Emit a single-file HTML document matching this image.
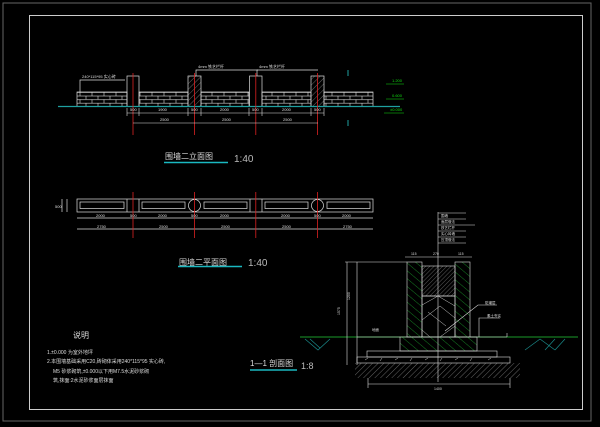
<!DOCTYPE html>
<html><head><meta charset="utf-8"><style>
html,body{margin:0;padding:0;background:#000;}
svg{display:block;}
text{font-family:"Liberation Sans","Noto Sans CJK SC",sans-serif;}
</style></head><body>
<svg width="600" height="427" viewBox="0 0 600 427" xmlns="http://www.w3.org/2000/svg">
<defs>
<pattern id="brick" x="77" y="92" width="12" height="7.2" patternUnits="userSpaceOnUse">
<rect width="12" height="7.2" fill="#000"/>
<line x1="0" y1="0.4" x2="12" y2="0.4" stroke="#ddd" stroke-width="0.6"/>
<line x1="0" y1="4" x2="12" y2="4" stroke="#ddd" stroke-width="0.6"/>
<line x1="3" y1="0.4" x2="3" y2="4" stroke="#ddd" stroke-width="0.6"/>
<line x1="9" y1="4" x2="9" y2="7.2" stroke="#ddd" stroke-width="0.6"/>
</pattern>
<pattern id="hatchG" width="6" height="6" patternUnits="userSpaceOnUse" patternTransform="rotate(-50)">
<line x1="0" y1="0" x2="0" y2="6" stroke="#1a9a2a" stroke-width="0.8"/>
</pattern>
<pattern id="hatchW" width="3" height="3" patternUnits="userSpaceOnUse" patternTransform="rotate(45)">
<line x1="0" y1="0" x2="0" y2="3" stroke="#bbb" stroke-width="0.5"/>
</pattern>
<pattern id="hatchW2" width="4" height="4" patternUnits="userSpaceOnUse" patternTransform="rotate(45)">
<line x1="0" y1="0" x2="0" y2="4" stroke="#aaa" stroke-width="0.6"/>
</pattern>
</defs>
<rect width="600" height="427" fill="#000"/>
<rect x="3" y="3" width="588" height="418" fill="none" stroke="#666" stroke-width="1"/>
<rect x="29.5" y="15.5" width="553" height="394" fill="none" stroke="#ccc" stroke-width="1"/>

<!-- Elevation -->
<g stroke="#ddd" stroke-width="0.7" fill="none">
<rect x="77" y="92" width="50" height="14.5" fill="url(#brick)"/>
<rect x="139" y="92" width="49" height="14.5" fill="url(#brick)"/>
<rect x="201" y="92" width="48" height="14.5" fill="url(#brick)"/>
<rect x="262" y="92" width="49" height="14.5" fill="url(#brick)"/>
<rect x="324" y="92" width="49" height="14.5" fill="url(#brick)"/>
<rect x="127" y="76" width="12" height="30.5"/>
<rect x="188" y="76" width="13" height="30.5" fill="url(#hatchW2)"/>
<rect x="249.5" y="76" width="12.5" height="30.5"/>
<rect x="311" y="76" width="13" height="30.5" fill="url(#hatchW2)"/>
<polyline points="80,92 80,80 125,80"/>
<polyline points="196,76 196,70 258,70"/>
<polyline points="257,76 257,70 318,70"/>
</g>
<line x1="58" y1="106.5" x2="400" y2="106.5" stroke="#1ea0a0" stroke-width="1.2"/>
<g stroke="#d22" stroke-width="0.8">
<line x1="133" y1="73" x2="133" y2="135"/><line x1="194.5" y1="73" x2="194.5" y2="135"/>
<line x1="255.8" y1="73" x2="255.8" y2="135"/><line x1="317.5" y1="73" x2="317.5" y2="135"/>
</g>
<g stroke="#ddd" stroke-width="0.6">
<line x1="127" y1="113" x2="324" y2="113"/><line x1="133" y1="123" x2="318" y2="123"/>
<line x1="127" y1="108" x2="127" y2="116"/><line x1="139" y1="108" x2="139" y2="116"/>
<line x1="188" y1="108" x2="188" y2="116"/><line x1="201" y1="108" x2="201" y2="116"/>
<line x1="249" y1="108" x2="249" y2="116"/><line x1="262" y1="108" x2="262" y2="116"/>
<line x1="311" y1="108" x2="311" y2="116"/><line x1="324" y1="108" x2="324" y2="116"/>
</g>
<g fill="#ddd" font-size="4">
<text x="130" y="111">500</text><text x="158" y="111">1900</text><text x="191" y="111">500</text><text x="220" y="111">2000</text><text x="252" y="111">500</text><text x="282" y="111">2000</text><text x="314" y="111">500</text>
<text x="160" y="121">2500</text><text x="222" y="121">2500</text><text x="283" y="121">2500</text>
<text x="82" y="78">240*115*95 实心砖</text><text x="198" y="68">4mm 铁艺栏杆</text><text x="259" y="68">4mm 铁艺栏杆</text>
</g>
<g fill="#1d1" font-size="4"><text x="392" y="82">1.200</text><text x="392" y="97">0.600</text><text x="390" y="111">±0.000</text></g>
<g stroke="#1d1" stroke-width="0.5"><line x1="386" y1="84" x2="404" y2="84"/><line x1="386" y1="99" x2="404" y2="99"/><line x1="384" y1="113" x2="404" y2="113"/></g>
<line x1="348" y1="70" x2="348" y2="76" stroke="#1ea0a0"/><line x1="348" y1="120" x2="348" y2="126" stroke="#1ea0a0"/>
<text x="165" y="159" fill="#ddd" font-size="8">围墙二立面图</text>
<line x1="164" y1="162.5" x2="228" y2="162.5" stroke="#1ab8c0" stroke-width="1.5"/>
<text x="234" y="162" fill="#bbb" font-size="10">1:40</text>

<!-- Plan -->
<g stroke="#ddd" stroke-width="0.7" fill="none">
<rect x="77" y="199" width="296" height="13"/>
<rect x="80" y="202" width="44" height="6.5"/><rect x="142" y="202" width="43" height="6.5"/>
<rect x="204" y="202" width="43" height="6.5"/><rect x="265" y="202" width="43" height="6.5"/>
<rect x="327" y="202" width="43" height="6.5"/>
<line x1="127" y1="199" x2="127" y2="212"/><line x1="139" y1="199" x2="139" y2="212"/>
<line x1="250" y1="199" x2="250" y2="212"/><line x1="262" y1="199" x2="262" y2="212"/>
<circle cx="194.5" cy="205.5" r="6"/><circle cx="317.5" cy="205.5" r="6"/>
<line x1="77" y1="218" x2="373" y2="218"/><line x1="77" y1="229" x2="373" y2="229"/>
<line x1="62" y1="199" x2="62" y2="212"/><line x1="67" y1="199" x2="67" y2="212"/>
</g>
<g stroke="#d22" stroke-width="0.8">
<line x1="133" y1="192" x2="133" y2="238"/><line x1="194.5" y1="192" x2="194.5" y2="238"/>
<line x1="255.8" y1="192" x2="255.8" y2="238"/><line x1="317.5" y1="192" x2="317.5" y2="238"/>
</g>
<g fill="#ddd" font-size="4">
<text x="96" y="217">2000</text><text x="130" y="217">500</text><text x="158" y="217">2000</text><text x="191" y="217">500</text><text x="220" y="217">2000</text><text x="281" y="217">2000</text><text x="314" y="217">500</text><text x="342" y="217">2000</text>
<text x="97" y="228">2750</text><text x="159" y="228">2500</text><text x="221" y="228">2500</text><text x="282" y="228">2500</text><text x="343" y="228">2750</text>
<text x="55" y="208">500</text>
</g>
<text x="179" y="265" fill="#ddd" font-size="8">围墙二平面图</text>
<line x1="178" y1="266.5" x2="242" y2="266.5" stroke="#1ab8c0" stroke-width="1.5"/>
<text x="248" y="266" fill="#bbb" font-size="10">1:40</text>

<!-- Section -->
<line x1="300" y1="337" x2="578" y2="337" stroke="#1a9a2a" stroke-width="1"/>
<g stroke="#1a8a8a" stroke-width="0.7">
<path d="M305,339 L318,350 L330,339 M310,339 L320,348 M540,339 L555,350 M555,339 L545,350 M565,339 L555,350 M525,350 L540,339"/>
</g>
<rect x="400" y="337" width="77" height="14" fill="url(#hatchG)" stroke="#ddd" stroke-width="0.6"/>
<rect x="407" y="262" width="15" height="75" fill="url(#hatchG)" stroke="#ddd" stroke-width="0.6"/>
<rect x="455" y="262" width="15" height="75" fill="url(#hatchG)" stroke="#ddd" stroke-width="0.6"/>
<rect x="422" y="266" width="33" height="30" fill="url(#hatchW)" stroke="#ddd" stroke-width="0.6"/>
<rect x="422" y="296" width="33" height="41" fill="none" stroke="#ddd" stroke-width="0.6"/>
<path d="M422,305 L438,296 L455,306 M422,320 L440,306 L455,318 M430,337 L422,330 M440,337 L455,326 M428,312 L446,326" stroke="#ccc" stroke-width="0.5" fill="none"/>
<rect x="367" y="351" width="130" height="6" fill="none" stroke="#ddd" stroke-width="0.6"/>
<rect x="357" y="357" width="153" height="6" fill="none" stroke="#ddd" stroke-width="0.6"/>
<path d="M365,360 l3,-2 M380,361 l2,-3 M395,360 l3,-2 M410,361 l2,-3 M425,360 l3,-2 M440,361 l2,-3 M455,360 l3,-2 M470,361 l2,-3 M488,360 l3,-2" stroke="#ccc" stroke-width="0.5"/>
<rect x="355" y="363" width="165" height="15" fill="url(#hatchW2)"/>
<g stroke="#ddd" stroke-width="0.6" fill="none">
<line x1="347" y1="262" x2="347" y2="365"/><line x1="357" y1="262" x2="357" y2="365"/>
<line x1="345" y1="262" x2="407" y2="262"/>
<line x1="357" y1="337" x2="400" y2="337"/>
<line x1="368" y1="384" x2="510" y2="384"/><line x1="368" y1="378" x2="368" y2="388"/><line x1="510" y1="378" x2="510" y2="388"/>
<line x1="405" y1="257" x2="472" y2="257"/>
<line x1="470" y1="337" x2="507" y2="337"/><line x1="507" y1="333" x2="507" y2="337"/>
<polyline points="445,331 478,305 497,305"/>
<polyline points="479,337 479,318 500,318"/>
</g>
<line x1="438" y1="212" x2="438" y2="382" stroke="#ddd" stroke-width="0.6"/>
<g stroke="#ddd" stroke-width="0.5">
<line x1="438" y1="213" x2="466" y2="213"/><line x1="438" y1="219" x2="466" y2="219"/><line x1="438" y1="225" x2="475" y2="225"/>
<line x1="438" y1="231" x2="466" y2="231"/><line x1="438" y1="237" x2="466" y2="237"/><line x1="438" y1="243" x2="466" y2="243"/>
</g>
<g fill="#ddd" font-size="3.5">
<text x="441" y="217">围墙</text><text x="441" y="223">面层做法</text><text x="441" y="229">铁艺栏杆</text><text x="441" y="235">实心砖墙</text><text x="441" y="241">压顶做法</text>
<text x="411" y="255">115</text><text x="433" y="255">270</text><text x="458" y="255">115</text>
<text x="372" y="331">地面</text><text x="434" y="390">1400</text>
<text x="485" y="304">防潮层</text><text x="487" y="317">素土夯实</text>
</g>
<g fill="#ddd" font-size="3.5"><text x="350" y="300" transform="rotate(-90 350 300)">1200</text><text x="340" y="315" transform="rotate(-90 340 315)">1575</text></g>
<text x="250" y="366" fill="#ddd" font-size="8">1—1 剖面图</text>
<line x1="250" y1="370" x2="297" y2="370" stroke="#1ab8c0" stroke-width="1.5"/>
<text x="301" y="369" fill="#bbb" font-size="9">1:8</text>

<!-- Notes -->
<text x="73" y="338" fill="#ddd" font-size="8">说明</text>
<g fill="#ddd" font-size="5">
<text x="47" y="354">1.±0.000 为室外地坪</text>
<text x="47" y="363">2.本围墙基础采用C20,砖砌体采用240*115*95 实心砖,</text>
<text x="53" y="373">M5 砂浆砌筑,±0.000以下用M7.5水泥砂浆砌</text>
<text x="53" y="382">筑,抹面:2水泥砂浆面层抹面</text>
</g>
</svg>
</body></html>
